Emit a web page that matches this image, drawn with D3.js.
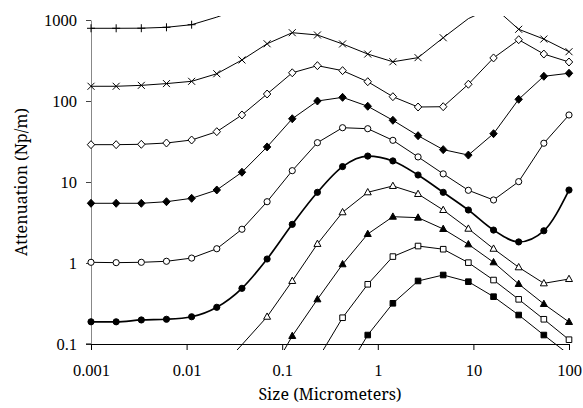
<!DOCTYPE html>
<html>
<head>
<meta charset="utf-8">
<script src="https://cdn.jsdelivr.net/npm/d3@7"></script>
</head>
<body style="margin:0;background:#fff">
<div id="chart"></div>
<script>
// particle sizes (micrometers), shared by every curve
var sizes = [0.001, 0.001833, 0.00336, 0.006158, 0.01129, 0.02069, 0.03793, 0.06952, 0.1274, 0.2336,
  0.4281, 0.7848, 1.438, 2.637, 4.833, 8.859, 16.24, 29.76, 54.56, 100];

// attenuation values (Np/m), null where the curve has no point
var plusVals = [790, 790, 792, 813, 875, 1085, 1400, null, null, null, null, null, null, null, null, null, null, null, null, null];
var crossVals = [152, 152, 156, 164, 175, 217, 321, 509, 697, 653, 506, 380, 305, 343, 604, 1040, 1450, 768, 582, 406];
var openDiamondVals = [28.9, 28.9, 29.2, 30.3, 33, 41.8, 67.2, 122, 223, 273, 237, 173, 113, 84.3, 85, 161, 340, 571, 380, 303];
var fillDiamondVals = [5.46, 5.46, 5.46, 5.71, 6.29, 7.97, 13.2, 27.1, 60.4, 100, 111, 86.1, 57.8, 37.3, 25.1, 21.5, 39.5, 105, 202, 220];
var openCircleVals = [1.02, 1.01, 1.02, 1.05, 1.15, 1.5, 2.61, 5.71, 13.8, 30.6, 46.8, 45.5, 32.7, 20.4, 12.6, 7.9, 6.0, 10.1, 30.1, 67.2];
var fillCircleVals = [0.188, 0.188, 0.198, 0.202, 0.217, 0.284, 0.487, 1.12, 3.0, 7.46, 15.5, 20.9, 18.2, 12.2, 7.46, 4.51, 2.55, 1.82, 2.5, 7.96];
var openTriangleVals = [null, null, null, null, null, 0.045, 0.098, 0.217, 0.6, 1.72, 4.23, 7.46, 8.93, 7.11, 4.51, 2.65, 1.5, 0.885, 0.561, 0.634];
var fillTriangleVals = [null, null, null, null, null, null, 0.012, 0.036, 0.1256, 0.356, 0.964, 2.28, 3.73, 3.63, 2.63, 1.7, 1.02, 0.551, 0.312, 0.187];
var openSquareVals = [null, null, null, null, null, null, null, null, 0.02, 0.064, 0.211, 0.546, 1.2, 1.62, 1.48, 1.01, 0.616, 0.356, 0.202, 0.113];
var fillSquareVals = [null, null, null, null, null, null, null, null, null, null, 0.039, 0.129, 0.318, 0.6, 0.711, 0.588, 0.384, 0.228, 0.129, 0.074];

var xTicks = [0.001, 0.01, 0.1, 1, 10, 100];
var yTicks = [0.1, 1, 10, 100, 1000];
var xTickLabels = ["0.001", "0.01", "0.1", "1", "10", "100"];
var yTickLabels = ["0.1", "1", "10", "100", "1000"];

var series = [
  { vals: plusVals, marker: "plus", fill: "none" },
  { vals: crossVals, marker: "cross", fill: "none" },
  { vals: openDiamondVals, marker: "diamond", fill: "#fff" },
  { vals: fillDiamondVals, marker: "diamond", fill: "#000" },
  { vals: openCircleVals, marker: "circle", fill: "#fff" },
  { vals: fillCircleVals, marker: "circle", fill: "#000", smooth: true },
  { vals: openTriangleVals, marker: "triangle", fill: "#fff" },
  { vals: fillTriangleVals, marker: "triangle", fill: "#000" },
  { vals: openSquareVals, marker: "square", fill: "#fff" },
  { vals: fillSquareVals, marker: "square", fill: "#000" }
];

var titleFont = "'Noto Serif', 'Liberation Serif', serif";
var tickFont = "'Liberation Serif', serif";

var svgWidth = 583;
var svgHeight = 408;

var svg = d3.select("#chart")
  .append("svg")
  .attr("width", svgWidth)
  .attr("height", svgHeight)
  .style("display", "block");

var x = d3.scaleLog().domain([0.001, 100]).range([91, 569]);
var y = d3.scaleLog().domain([0.1, 1000]).range([344, 20]);

// clip lets the curves run a little past the axes, like the original
svg.append("clipPath")
  .attr("id", "plotClip")
  .append("rect")
  .attr("x", 85)
  .attr("y", 16)
  .attr("width", 492)
  .attr("height", 334);

// y axis (grey line)
var yAxis = svg.append("g")
  .attr("transform", "translate(91,0)")
  .call(d3.axisLeft(y)
    .tickValues(yTicks)
    .tickFormat((d, i) => yTickLabels[i])
    .tickSize(5)
    .tickSizeOuter(0)
    .tickPadding(9));
yAxis.select(".domain").attr("stroke", "#888");
yAxis.selectAll(".tick line").attr("stroke", "#444");
yAxis.selectAll(".tick text")
  .style("font-family", tickFont)
  .style("font-size", "16.5px")
  .attr("fill", "#000");

// x axis (black line)
var xAxis = svg.append("g")
  .attr("transform", "translate(0,344)")
  .call(d3.axisBottom(x)
    .tickValues(xTicks)
    .tickFormat((d, i) => xTickLabels[i])
    .tickSize(6)
    .tickSizeOuter(0));
xAxis.select(".domain").attr("stroke", "#000");
xAxis.selectAll(".tick text")
  .attr("y", 32).attr("dy", 0)
  .style("font-family", tickFont)
  .style("font-size", "16.5px")
  .attr("fill", "#000");
// short stub on the left where the 0.1 tick meets the axis
xAxis.append("line")
  .attr("x1", 86).attr("x2", 91)
  .attr("y1", 0).attr("y2", 0)
  .attr("stroke", "#000");

// curves
var plotGroup = svg.append("g").attr("clip-path", "url(#plotClip)");

function pointsOf(s) {
  return sizes.map((d, i) => ({ x: d, v: s.vals[i] })).filter(p => p.v !== null);
}

series.forEach(function (s) {
  var line = d3.line()
    .x(p => x(p.x))
    .y(p => y(p.v))
    .curve(s.smooth ? d3.curveMonotoneX : d3.curveLinear);

  plotGroup.append("path")
    .datum(pointsOf(s))
    .attr("d", line)
    .attr("fill", "none")
    .attr("stroke", "#000")
    .attr("stroke-width", s.smooth ? 1.7 : 1);
});

// marker shapes
function markerPath(kind) {
  switch (kind) {
    case "plus": return "M-4,0H4M0,-4V4";
    case "cross": return "M-3.5,-3.5L3.5,3.5M-3.5,3.5L3.5,-3.5";
    case "diamond": return "M0,-4L3.7,0L0,4L-3.7,0Z";
    case "circle": return "M3.1,0A3.1,3.1 0 1 1 -3.1,0A3.1,3.1 0 1 1 3.1,0Z";
    case "triangle": return "M0,-3.8L3.5,2.5L-3.5,2.5Z";
    case "square": return "M-2.8,-2.8H2.8V2.8H-2.8Z";
  }
}

series.forEach(function (s) {
  plotGroup.selectAll(null)
    .data(pointsOf(s).filter(p => p.v >= 0.1 && p.v <= 1000))
    .enter()
    .append("path")
    .attr("transform", p => `translate(${x(p.x)},${y(p.v)})`)
    .attr("d", markerPath(s.marker))
    .attr("fill", s.fill)
    .attr("stroke", "#000")
    .attr("stroke-width", 1);
});

// axis titles
svg.append("text")
  .attr("x", 330)
  .attr("y", 400)
  .attr("text-anchor", "middle")
  .style("font-family", titleFont)
  .style("font-size", "16px")
  .text("Size (Micrometers)");

svg.append("text")
  .attr("transform", "translate(27,182) rotate(-90)")
  .attr("text-anchor", "middle")
  .style("font-family", titleFont)
  .style("font-size", "16px")
  .text("Attenuation (Np/m)");
</script>
</body>
</html>
